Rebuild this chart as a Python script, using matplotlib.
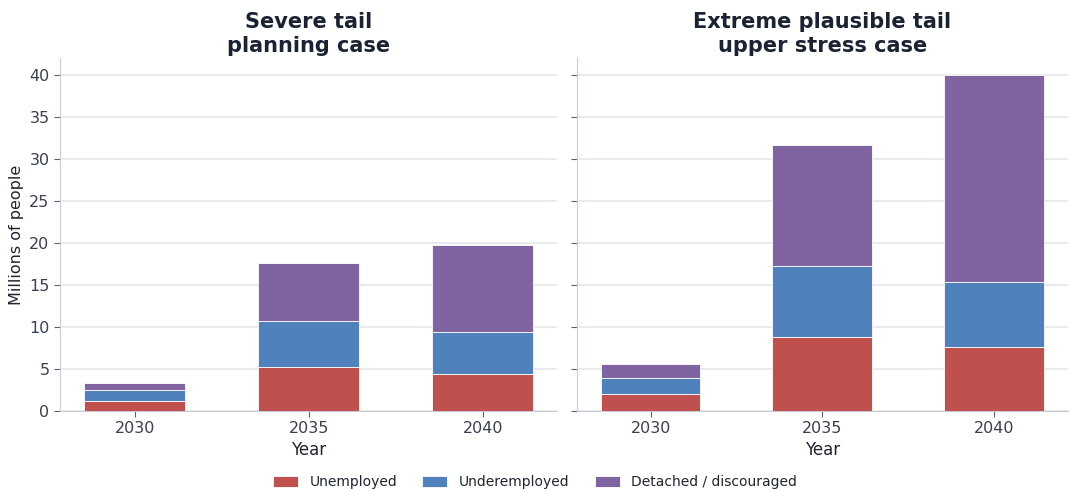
import matplotlib
matplotlib.use("Agg")
import matplotlib.pyplot as plt
import numpy as np

years = ["2030", "2035", "2040"]
panels = ["Severe tail\nplanning case", "Extreme plausible tail\nupper stress case"]
series_names = ["Unemployed", "Underemployed", "Detached / discouraged"]
colors = ["#c0504d", "#4f81bd", "#8064a2"]

severe_unemployed = [1.2, 5.2, 4.35]
severe_underemployed = [1.27, 5.55, 5.05]
severe_detached = [0.83, 6.8, 10.35]

extreme_unemployed = [2.05, 8.75, 7.65]
extreme_underemployed = [1.9, 8.55, 7.7]
extreme_detached = [1.6, 14.4, 24.65]

data = [
    [severe_unemployed, severe_underemployed, severe_detached],
    [extreme_unemployed, extreme_underemployed, extreme_detached],
]

text_col = "#3a4050"
label_col = "#1f2430"
title_col = "#1a2233"
spine_col = "#c8ccd4"
grid_col = "#e4e6ea"

fig = plt.figure(figsize=(10.7, 4.91), dpi=100)
ax1 = fig.add_axes([0.056, 0.163, 0.465, 0.719])
ax2 = fig.add_axes([0.539, 0.163, 0.459, 0.719], sharey=ax1)

x = np.arange(len(years))
handles = []
for ax, title, d in zip([ax1, ax2], panels, data):
    bottom = np.zeros(len(years))
    for vals, name, c in zip(d, series_names, colors):
        b = ax.bar(x, vals, 0.58, bottom=bottom, color=c, edgecolor="white",
                   linewidth=0.6, label=name, zorder=3)
        bottom += np.array(vals)
        if ax is ax1:
            handles.append(b)
    ax.set_xticks(x)
    ax.set_xticklabels(years)
    ax.set_title(title, fontsize=15, fontweight="bold", color=title_col, pad=4, linespacing=1.25)
    ax.set_xlabel("Year", fontsize=12, color=label_col, labelpad=3)
    ax.grid(axis="y", color=grid_col, linewidth=1.2, zorder=0)
    ax.set_axisbelow(True)
    for s in ["top", "right"]:
        ax.spines[s].set_visible(False)
    for s in ["left", "bottom"]:
        ax.spines[s].set_color(spine_col)
    ax.tick_params(colors=text_col, labelsize=11.5, length=4, color="#5a6070")
    ax.set_xlim(-0.43, 2.43)

ax1.set_ylim(0, 42)
ax1.set_yticks(np.arange(0, 41, 5))
ax1.set_ylabel("Millions of people", fontsize=11.5, color=label_col)
plt.setp(ax2.get_yticklabels(), visible=False)

fig.legend(handles, series_names, loc="lower center", ncol=3, frameon=False,
           fontsize=10, bbox_to_anchor=(0.5, -0.022), handlelength=1.8,
           handleheight=0.75, handletextpad=0.85, columnspacing=1.8,
           labelcolor=label_col)

fig.savefig("out.png", dpi=100, facecolor="white")
